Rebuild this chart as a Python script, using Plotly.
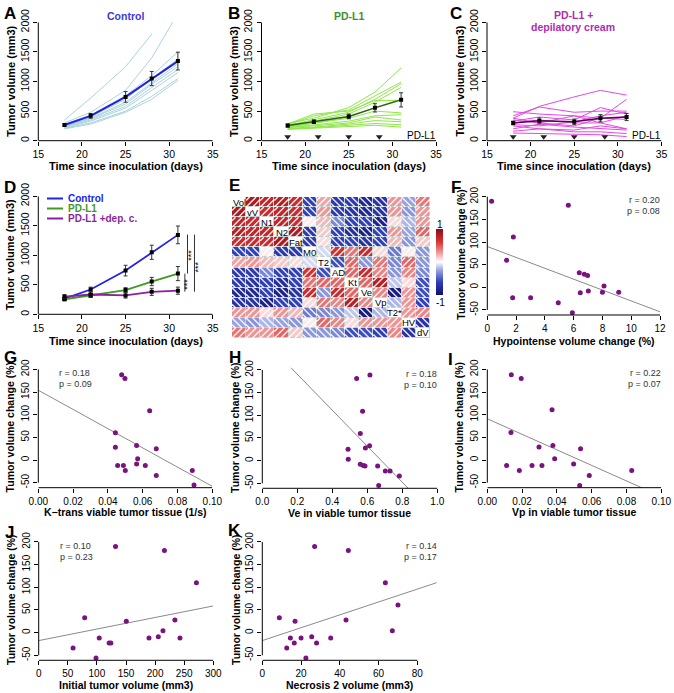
import plotly.graph_objects as go
import numpy as np

W, H = 674, 693
FONT = "Liberation Sans, Arial, sans-serif"

# ---------------- data ----------------
days = [18, 21, 25, 28, 31]

ctrl_mean = [265, 420, 740, 1050, 1345]
ctrl_sem = [20, 40, 90, 120, 150]
pdl1_mean = [255, 320, 410, 555, 690]
pdl1_sem = [25, 30, 40, 70, 120]
dep_mean = [300, 335, 320, 380, 400]
dep_sem = [30, 50, 45, 60, 60]

ctrl_indiv = [
    [350, 720, 1250, 1800, None],
    [300, 480, 850, 1400, 2150],
    [280, 430, 760, 1100, 1500],
    [260, 400, 700, 1050, 1380],
    [250, 380, 650, 980, 1300],
    [240, 370, 620, 950, 1250],
    [230, 350, 580, 900, 1200],
    [220, 330, 550, 850, 1150],
    [210, 300, 500, 750, 1050],
    [200, 280, 480, 700, 1020],
]
pdl1_indiv = [
    [290, 380, 560, 820, 1230],
    [270, 420, 520, 760, 990],
    [260, 350, 480, 700, 960],
    [250, 330, 450, 650, 900],
    [280, 450, 500, 680, 680],
    [240, 300, 400, 560, 700],
    [230, 290, 380, 500, 470],
    [220, 270, 330, 420, 440],
    [230, 250, 300, 400, 350],
    [210, 230, 280, 340, 320],
    [200, 220, 260, 290, 270],
    [190, 210, 240, 260, 230],
]
dep_indiv = [
    [380, 580, 740, 850, 770],
    [490, 450, 420, 380, 360],
    [420, 570, 480, 500, 500],
    [350, 300, 250, 380, 700],
    [330, 400, 350, 560, 450],
    [300, 350, 300, 300, 420],
    [270, 250, 320, 420, 480],
    [250, 200, 180, 250, 200],
    [200, 280, 230, 200, 180],
    [160, 200, 150, 150, 120],
    [130, 120, 100, 100, 70],
    [380, 300, 420, 300, 200],
]
treat_days = [18, 21.5, 25, 28.5]

sig_x = [31.8, 32.1, 32.9]
sig_lo = [383, 690, 383]
sig_hi = [690, 1350, 1350]
sig_tx = [32.1, 32.55, 33.35]
sig_ty = [510, 1000, 800]

corr_labels = ["Vol", "vV", "N1", "N2", "Fat", "M0", "T2", "AD", "Kt", "Ve", "Vp", "T2*", "HV", "dV"]
corr_upper = [
    [0.85, 0.75, 0.8, 0.7, -0.6, 0.25, -0.65, -0.65, -0.8, -0.7, 0.3, -0.25, 0.4],
    [0.7, 0.75, 0.7, -0.6, 0.3, -0.65, -0.7, -0.8, -0.7, 0.3, -0.3, 0.3],
    [0.75, 0.7, 0.05, 0.2, -0.35, -0.6, -0.6, -0.85, 0.1, -0.2, 0.3],
    [0.85, -0.65, 0.15, -0.6, -0.75, -0.85, -0.6, 0.3, -0.25, 0.45],
    [-0.65, 0.1, -0.6, -0.6, -0.7, -0.6, 0.2, -0.3, 0.15],
    [-0.1, 0.65, 0.4, 0.7, 0.1, -0.4, 0.05, -0.3],
    [-0.55, 0.45, -0.3, 0.4, -0.35, 0.45, -0.3],
    [0.45, 0.7, 0.35, -0.3, 0.35, -0.35],
    [0.45, 0.8, -0.15, 0.1, -0.55],
    [0.35, -0.9, 0.3, -0.55],
    [-0.2, 0.3, -0.6],
    [0.3, 0.35],
    [-0.7],
]

F_x = [0.30, 5.63, 1.81, 1.34, 1.76, 3.01, 4.93, 5.91, 6.39, 6.74, 6.97, 6.46, 7.02, 8.11, 8.00, 9.13]
F_y = [190, 181, 111, 60, -23, -23, -34, -56, 32, 29, 26, -12, -8, 3, -11, -11]
G_x = [0.0479, 0.0498, 0.0443, 0.0443, 0.0456, 0.0489, 0.0500, 0.0565, 0.0571, 0.0565, 0.0615, 0.0640, 0.0678, 0.0678, 0.0885, 0.0895]
G_y = [188, 180, 60, 28, -12, -12, -23, 32, 3, -9, -12, 109, 25, -34, -23, -55]
H_x = [0.539, 0.615, 0.573, 0.560, 0.490, 0.589, 0.613, 0.491, 0.560, 0.577, 0.587, 0.659, 0.703, 0.730, 0.783, 0.665]
H_y = [181, 189, 109, 60, 25, 28, 33, 3, -8, -11, -12, -12, -23, -23, -34, -55]
I_x = [0.0138, 0.0195, 0.0372, 0.0136, 0.0297, 0.0377, 0.0536, 0.0387, 0.0111, 0.0184, 0.0257, 0.0314, 0.0496, 0.0586, 0.0830, 0.0531]
I_y = [188, 180, 111, 61, 29, 32, 25, 3, -12, -23, -12, -12, -9, -34, -23, -56]
J_x = [132, 216, 271, 79, 150.5, 234, 104, 189.5, 205.5, 213.5, 242.7, 59, 121, 124, 98.5]
J_y = [190, 181, 110, 33, 25, 28, -12, -12, -9, 4, -12, -34, -23, -23, -56]
K_x = [27, 44.4, 63.5, 70, 8.8, 16.9, 14.5, 16.5, 20, 25.5, 28, 35.3, 22.5, 12.6, 43.2, 67.1]
K_y = [190, 181, 110, 61, 33, 25, -12, -23, -12, -9, -23, -12, -56, -34, 28, 4]

# regression lines (intercept, slope) and r/p text
fits = {"F": (90, -12), "G": (154, -2120), "H": (270, -397), "I": (91, -1714), "J": (-17.6, 0.255), "K": (-17.6, 1.42)}
stats = {"F": ("0.20", "0.08"), "G": ("0.18", "0.09"), "H": ("0.18", "0.10"), "I": ("0.22", "0.07"), "J": ("0.10", "0.23"), "K": ("0.14", "0.17")}

# ---------------- styles ----------------
C_CTRL = "#2323e6"
C_CTRL_L = "#a9d3e0"
C_PD = "#3f9a24"
C_PD_L = "#8fe64a"
C_PD_MEAN = "#2c5e1c"
C_DEP = "#8a1fa0"
C_DEP_L = "#e24ae2"
C_DEP_MEAN = "#4a0a4a"
C_PT = "#7a127f"

fig = go.Figure()
layout = {}
shapes = []
annotations = []


def fx(px):
    return px / W


def fy(py):
    return 1 - py / H


def sfx(n):
    return "" if n == 1 else str(n)


def add_axes(n, xpx, ypx, xr, yr, xt, yt, xtt, ytt, tf=10.5):
    s = sfx(n)
    common = dict(ticks="outside", ticklen=4, tickwidth=1, tickcolor="black", showgrid=False,
                  zeroline=False, showline=False, fixedrange=True, automargin=False,
                  tickfont=dict(size=tf, color="black", family=FONT))
    layout["xaxis" + s] = dict(domain=[fx(xpx[0]), fx(xpx[1])], range=xr, anchor="y" + s,
                               tickvals=xt, ticktext=xtt, **common)
    layout["yaxis" + s] = dict(domain=[fy(ypx[1]), fy(ypx[0])], range=yr, anchor="x" + s,
                               tickvals=yt, ticktext=ytt, tickangle=-90, **common)
    shapes.append(dict(type="line", xref="x" + s, yref="y" + s + " domain", x0=xt[0], x1=xt[-1],
                       y0=0, y1=0, line=dict(color="black", width=1)))
    shapes.append(dict(type="line", xref="x" + s + " domain", yref="y" + s, x0=0, x1=0,
                       y0=yt[0], y1=yt[-1], line=dict(color="black", width=1)))


def text(xp, yp, t, size=10.5, bold=True, color="black", angle=0, xa="center", ya="middle"):
    s = f"<b>{t}</b>" if bold else t
    annotations.append(dict(x=fx(xp), y=fy(yp), xref="paper", yref="paper", text=s, showarrow=False,
                            textangle=angle, xanchor=xa, yanchor=ya,
                            font=dict(size=size, color=color, family=FONT)))


def trace(n, **kw):
    s = sfx(n)
    kw.setdefault("showlegend", False)
    kw.setdefault("hoverinfo", "skip")
    t = kw.pop("kind", go.Scatter)
    fig.add_trace(t(xaxis="x" + s, yaxis="y" + s, **kw))


# ---------------- growth panels A, B, C, D ----------------
gx_t = [15, 20, 25, 30, 35]
gy_t = [0, 500, 1000, 1500, 2000]
top_y = [22.3, 140.7]
panels_top = [(1, [38.3, 212.8]), (2, [261.5, 436]), (3, [487, 661.5])]
for n, xp in panels_top:
    add_axes(n, xp, top_y, [15, 35], [0, 2000], gx_t, gy_t, [str(v) for v in gx_t], [str(v) for v in gy_t])
    text((xp[0] + xp[1]) / 2, 166, "Time since inoculation (days)", size=11)
    text(xp[0] - 28, (top_y[0] + top_y[1]) / 2, "Tumor volume (mm3)", size=11, angle=-90)


def mean_trace(n, m, e, col, lw=2):
    trace(n, x=days, y=m, mode="lines", line=dict(color=col, width=lw))
    trace(n, x=days, y=m, mode="markers", marker=dict(symbol="square", size=4, color="black"),
          error_y=dict(type="data", array=e, color="#333333", thickness=1, width=2))


for row in ctrl_indiv:
    trace(1, x=days, y=row, mode="lines", line=dict(color=C_CTRL_L, width=1), connectgaps=False)
mean_trace(1, ctrl_mean, ctrl_sem, C_CTRL)
for row in pdl1_indiv:
    trace(2, x=days, y=row, mode="lines", line=dict(color=C_PD_L, width=1))
mean_trace(2, pdl1_mean, pdl1_sem, C_PD_MEAN, 1.5)
for row in dep_indiv:
    trace(3, x=days, y=row, mode="lines", line=dict(color=C_DEP_L, width=1))
mean_trace(3, dep_mean, dep_sem, C_DEP_MEAN, 1.5)

for n in (2, 3):
    trace(n, x=treat_days, y=[68] * len(treat_days), mode="markers",
          marker=dict(symbol="triangle-down", size=6, color="#222222"))
    annotations.append(dict(x=33.3, y=80, xref="x" + sfx(n), yref="y" + sfx(n), text="PD-L1",
                            showarrow=False, font=dict(size=10, color="black", family=FONT)))

text(125.5, 16, "Control", size=10.5, color="#3b3bd6")
text(349, 16, "PD-L1", size=10.5, color="#3f8f2a")
text(573, 15, "PD-L1 +", size=10.5, color="#b02cb0")
text(573, 27, "depilatory cream", size=10.5, color="#b02cb0")

# D
d_y = [196.2, 314.3]
add_axes(4, [38.3, 212.8], d_y, [15, 35], [0, 2000], gx_t, gy_t, [str(v) for v in gx_t], [str(v) for v in gy_t])
text((38.3 + 212.8) / 2, 340.5, "Time since inoculation (days)", size=11)
text(10, (d_y[0] + d_y[1]) / 2, "Tumor volume (mm3)", size=11, angle=-90)
for m, e, col in [(ctrl_mean, ctrl_sem, C_CTRL), (pdl1_mean, pdl1_sem, C_PD), (dep_mean, dep_sem, C_DEP)]:
    trace(4, x=days, y=m, mode="lines", line=dict(color=col, width=1.8))
for m, e in [(ctrl_mean, ctrl_sem), (pdl1_mean, pdl1_sem), (dep_mean, dep_sem)]:
    trace(4, x=days, y=m, mode="markers", marker=dict(symbol="square", size=4, color="black"),
          error_y=dict(type="data", array=e, color="#333333", thickness=1, width=2))
for xs, lo, hi, tx, ty in zip(sig_x, sig_lo, sig_hi, sig_tx, sig_ty):
    shapes.append(dict(type="line", xref="x4", yref="y4", x0=xs, x1=xs, y0=lo, y1=hi,
                       line=dict(color="#333333", width=1)))
    annotations.append(dict(x=tx, y=ty, xref="x4", yref="y4", text="***", showarrow=False, textangle=-90,
                            font=dict(size=9, color="black", family=FONT)))
for i, (lab, col) in enumerate([("Control", C_CTRL), ("PD-L1", C_PD), ("PD-L1 +dep. c.", C_DEP)]):
    yy = 198.5 + 10 * i
    shapes.append(dict(type="line", xref="paper", yref="paper", x0=fx(47), x1=fx(63), y0=fy(yy), y1=fy(yy),
                       line=dict(color=col, width=2)))
    text(66, yy, lab, size=10, color=col, xa="left")

# ---------------- E: correlation matrix ----------------
nv = len(corr_labels)
Z = np.zeros((nv, nv))
for i, row in enumerate(corr_upper):
    for k, v in enumerate(row):
        j = i + 1 + k
        Z[i, j] = v
        Z[j, i] = v
ex = [232, 430]
ey = [197, 338]
layout["xaxis5"] = dict(domain=[fx(ex[0]), fx(ex[1])], range=[-0.5, nv - 0.5], anchor="y5", visible=False, fixedrange=True)
layout["yaxis5"] = dict(domain=[fy(ey[1]), fy(ey[0])], range=[nv - 0.5, -0.5], anchor="x5", visible=False, fixedrange=True)
shapes.append(dict(type="rect", xref="x5 domain", yref="y5 domain", x0=0, x1=1, y0=0, y1=1,
                   fillcolor="#c3d0d0", line=dict(width=0), layer="below"))
cscale = [[0, "#10106a"], [0.2, "#3040b8"], [0.38, "#9aa6e2"], [0.5, "#ffffff"],
          [0.62, "#f0a8a8"], [0.8, "#dc3535"], [1, "#8e0a14"]]
trace(5, kind=go.Heatmap, z=Z, x=list(range(nv)), y=list(range(nv)), zmin=-1, zmax=1, colorscale=cscale,
      xgap=1, ygap=1, showscale=True,
      colorbar=dict(x=fx(436), xanchor="left", y=fy(262.5), yanchor="middle", len=66 / H, lenmode="fraction",
                    thickness=7, thicknessmode="pixels", showticklabels=False, ticks="", outlinewidth=0,
                    xpad=0, ypad=0))
# shade stripes
cw = (ex[1] - ex[0]) / nv
ch = (ey[1] - ey[0]) / nv
sx, sy = [], []
for i in range(nv):
    for j in range(nv):
        if i == j:
            continue
        pos = Z[i, j] >= 0
        cs = np.arange(3.5, cw + ch, 6.5) if pos else np.arange(-ch + 3.5, cw, 6.5)
        for c in cs:
            if pos:
                lo, hi = max(0.0, c - ch), min(cw, c)
                pts = [(lo, c - lo), (hi, c - hi)]
            else:
                lo, hi = max(0.0, c), min(cw, c + ch)
                pts = [(lo, lo - c), (hi, hi - c)]
            if hi - lo < 0.8:
                continue
            for u, v in pts:
                sx.append(j - 0.5 + u / cw)
                sy.append(i - 0.5 + v / ch)
            sx.append(None)
            sy.append(None)
trace(5, x=sx, y=sy, mode="lines", line=dict(color="rgba(255,255,255,0.9)", width=1.4))
for i, lab in enumerate(corr_labels):
    annotations.append(dict(x=i, y=i, xref="x5", yref="y5", text=lab, showarrow=False,
                            font=dict(size=9.5, color="black", family=FONT)))
text(440, 224, "1", size=10, bold=False)
text(440, 302, "-1", size=10, bold=False)

# ---------------- scatter panels ----------------
sy_t = [-50, 0, 50, 100, 150, 200]
sy_tt = ["-50", "0", "50", "100", "150", "200"]
yr = [-61, 205]
scale = 0.4533


def ypix(base50):
    return [base50 - (200 + 5 + 50) * scale + 0, base50 + 11 * scale]


scat = [
    ("F", 6, [487.3, 660], ypix(310), [0, 12], [0, 2, 4, 6, 8, 10, 12], "{:.0f}", F_x, F_y,
     "Hypointense volume change (%)", 340.5, 461, "right"),
    ("G", 7, [38.3, 212.3], ypix(482.7), [0, 0.1], [0, 0.02, 0.04, 0.06, 0.08, 0.1], "{:.2f}", G_x, G_y,
     "K\u2212trans viable tumor tissue (1/s)", 511.7, 10, "left"),
    ("H", 8, [262.3, 437.3], ypix(483.3), [0, 1], [0, 0.2, 0.4, 0.6, 0.8, 1.0], "{:.1f}", H_x, H_y,
     "Ve in viable tumor tissue", 512.5, 235, "right"),
    ("I", 9, [487.3, 661.3], ypix(482.7), [0, 0.1], [0, 0.02, 0.04, 0.06, 0.08, 0.1], "{:.2f}", I_x, I_y,
     "Vp in viable tumor tissue", 511.7, 459, "right"),
    ("J", 10, [38.7, 213.3], ypix(655.3), [0, 300], [0, 50, 100, 150, 200, 250, 300], "{:.0f}", J_x, J_y,
     "Initial tumor volume (mm3)", 684.5, 11, "left"),
    ("K", 11, [262.3, 436.7], ypix(655.3), [0, 90], [0, 20, 40, 60, 80], "{:.0f}", K_x, K_y,
     "Necrosis 2 volume (mm3)", 684.5, 236, "right"),
]
for key, n, xp, yp, xr, xt, fmt, xs, ys, xtitle, xty, ytx, side in scat:
    add_axes(n, xp, yp, xr, yr, xt, sy_t, [fmt.format(v) for v in xt], sy_tt, tf=10)
    b0, b1 = fits[key]
    lx = [xr[0], xr[1]]
    trace(n, x=lx, y=[b0 + b1 * v for v in lx], mode="lines", line=dict(color="#8a8a8a", width=1))
    trace(n, x=xs, y=ys, mode="markers", marker=dict(size=5, color=C_PT))
    text((xp[0] + xp[1]) / 2, xty, xtitle, size=10.5)
    text(ytx, (yp[0] + yp[1]) / 2, "Tumor volume change (%)", size=10.5, angle=-90)
    r, p = stats[key]
    y_r = yp[0] + 6
    if side == "left":
        text(xp[0] + 19, y_r, f"r = {r}", size=9, bold=False, color="#333333", xa="left")
        text(xp[0] + 19, y_r + 11, f"p = {p}", size=9, bold=False, color="#333333", xa="left")
    else:
        text(xp[1] + 2, y_r, f"r = {r}", size=9, bold=False, color="#333333", xa="right")
        text(xp[1] + 2, y_r + 11, f"p = {p}", size=9, bold=False, color="#333333", xa="right")

# ---------------- panel letters ----------------
letters = [("A", 2, 2), ("B", 226, 2), ("C", 448, 2), ("D", 2, 176), ("E", 227, 174), ("F", 449, 176),
           ("G", 2, 346), ("H", 227, 346), ("I", 446, 348), ("J", 3, 521), ("K", 226, 519)]
for L, xp, yp in letters:
    text(xp, yp, L, size=17, xa="left", ya="top")

fig.update_layout(width=W, height=H, margin=dict(l=0, r=0, t=0, b=0, pad=0, autoexpand=False),
                  paper_bgcolor="white", plot_bgcolor="white", showlegend=False, shapes=shapes,
                  annotations=annotations, font=dict(family=FONT), **layout)
fig.write_html("out.html", config={"displayModeBar": False},
               post_script="document.body.style.margin='0';document.body.style.overflow='hidden';")
